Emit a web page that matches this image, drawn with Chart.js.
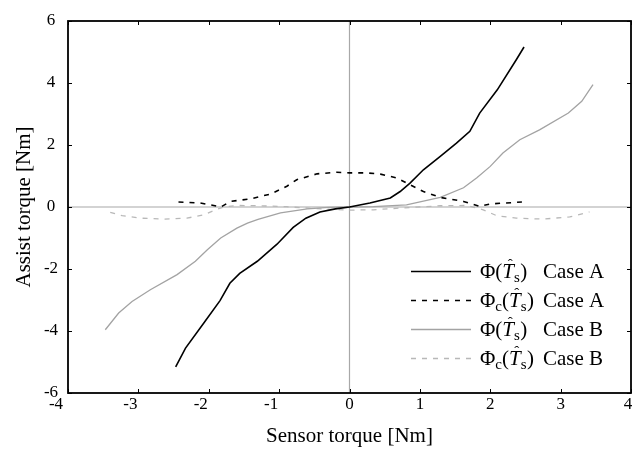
<!DOCTYPE html>
<html>
<head>
<meta charset="utf-8">
<script src="https://cdn.jsdelivr.net/npm/chart.js@4"></script>
<style>
  html, body { margin: 0; padding: 0; background: #fff; }
  #wrap { width: 634px; height: 450px; position: relative; }
</style>
</head>
<body>
<div id="wrap"><canvas id="c" width="634" height="450"></canvas></div>
<script>
// ---- data ----
const xTicks = [-4, -3, -2, -1, 0, 1, 2, 3, 4];
const yTicks = [-6, -4, -2, 0, 2, 4, 6];
const xTitle = 'Sensor torque [Nm]';
const yTitle = 'Assist torque [Nm]';
const caseNames = ['Case A', 'Case A', 'Case B', 'Case B'];
const funcSubs = ['', 'c', '', 'c'];   // Φ or Φc

const phiA_x = [-2.47, -2.33, -2.07, -1.84, -1.70, -1.56, -1.31, -1.03, -0.80, -0.62, -0.42, -0.20, 0, 0.29, 0.58, 0.72, 0.86, 1.05, 1.29, 1.52, 1.71, 1.85, 2.10, 2.37, 2.48];
const phiA_y = [-5.16, -4.55, -3.74, -3.02, -2.46, -2.14, -1.75, -1.20, -0.66, -0.36, -0.16, -0.06, 0, 0.13, 0.29, 0.50, 0.77, 1.20, 1.63, 2.06, 2.44, 3.03, 3.78, 4.75, 5.16];

const phiCA_x = [-2.43, -2.12, -1.98, -1.83, -1.69, -1.41, -1.12, -0.89, -0.75, -0.46, -0.18, 0, 0.25, 0.44, 0.67, 0.86, 1.05, 1.29, 1.62, 1.85, 2.00, 2.45];
const phiCA_y = [0.16, 0.13, 0.07, 0.00, 0.18, 0.26, 0.42, 0.67, 0.88, 1.07, 1.12, 1.10, 1.10, 1.06, 0.94, 0.72, 0.50, 0.31, 0.18, 0.02, 0.10, 0.16];

const phiB_x = [-3.47, -3.28, -3.09, -2.83, -2.45, -2.19, -2.02, -1.83, -1.60, -1.45, -1.30, -0.98, -0.60, -0.30, 0, 0.34, 0.81, 1.29, 1.62, 1.81, 2.00, 2.18, 2.42, 2.70, 3.11, 3.30, 3.46];
const phiB_y = [-3.96, -3.42, -3.05, -2.67, -2.18, -1.75, -1.38, -1.00, -0.68, -0.52, -0.40, -0.19, -0.06, -0.01, 0, 0.01, 0.07, 0.31, 0.62, 0.94, 1.31, 1.74, 2.17, 2.49, 3.03, 3.41, 3.95];

const phiCB_x = [-3.40, -3.23, -2.97, -2.64, -2.31, -2.07, -1.90, -1.79, -1.60, -1.28, -0.90, -0.50, 0, 0.34, 0.76, 1.29, 1.67, 1.90, 2.09, 2.37, 2.75, 3.13, 3.41];
const phiCB_y = [-0.17, -0.28, -0.36, -0.39, -0.36, -0.25, -0.09, 0.00, 0.05, 0.04, 0.01, -0.05, -0.10, -0.09, -0.03, 0.04, 0.05, -0.09, -0.28, -0.36, -0.39, -0.32, -0.16];

const pts = (xs, ys) => xs.map((x, i) => ({ x: x, y: ys[i] }));

const SERIF = '"Liberation Serif", "Times New Roman", serif';
const BLACK = '#000000';
const GRAY = '#a3a3a3';
const LGRAY = '#b8b8b8';
const ZERO = '#a8a8a8';

const datasets = [
  { label: 'Φ(T̂s) Case A', data: pts(phiA_x, phiA_y), borderColor: BLACK, borderWidth: 1.6, borderDash: [] },
  { label: 'Φc(T̂s) Case A', data: pts(phiCA_x, phiCA_y), borderColor: BLACK, borderWidth: 1.6, borderDash: [5, 6] },
  { label: 'Φ(T̂s) Case B', data: pts(phiB_x, phiB_y), borderColor: GRAY, borderWidth: 1.3, borderDash: [] },
  { label: 'Φc(T̂s) Case B', data: pts(phiCB_x, phiCB_y), borderColor: LGRAY, borderWidth: 1.3, borderDash: [5, 6] }
].map(d => Object.assign(d, { fill: false, tension: 0, pointRadius: 0, pointHoverRadius: 0 }));

// zero lines under the data
const zeroLines = {
  id: 'zeroLines',
  beforeDatasetsDraw(chart) {
    const { ctx, chartArea: a, scales: { x, y } } = chart;
    ctx.save();
    ctx.strokeStyle = ZERO;
    ctx.lineWidth = 1.2;
    const px = x.getPixelForValue(0), py = y.getPixelForValue(0);
    ctx.beginPath();
    ctx.moveTo(px, a.top); ctx.lineTo(px, a.bottom);
    ctx.moveTo(a.left, py); ctx.lineTo(a.right, py);
    ctx.stroke();
    ctx.restore();
  }
};

function drawMath(ctx, x, y, sub) {
  const main = '21px ' + SERIF, small = '15px ' + SERIF, ital = 'italic 21px ' + SERIF;
  ctx.textAlign = 'left';
  ctx.textBaseline = 'alphabetic';
  ctx.font = main; ctx.fillText('Φ', x, y); x += ctx.measureText('Φ').width;
  if (sub) { ctx.font = small; ctx.fillText(sub, x, y + 4); x += ctx.measureText(sub).width; }
  ctx.font = main; ctx.fillText('(', x, y); x += ctx.measureText('(').width;
  ctx.font = ital; const tw = ctx.measureText('T').width; ctx.fillText('T', x, y);
  ctx.font = small; ctx.textAlign = 'center'; ctx.fillText('ˆ', x + tw / 2 + 2, y - 9); ctx.textAlign = 'left';
  x += tw;
  ctx.font = small; ctx.fillText('s', x, y + 4); x += ctx.measureText('s').width + 0.5;
  ctx.font = main; ctx.fillText(')', x, y);
}

const frame = {
  id: 'frame',
  afterDraw(chart) {
    const { ctx, chartArea: a, scales: { x, y } } = chart;
    ctx.save();
    // box
    ctx.strokeStyle = '#000';
    ctx.lineWidth = 1.8;
    ctx.strokeRect(a.left, a.top, a.right - a.left, a.bottom - a.top);
    // inward ticks
    ctx.lineWidth = 1;
    const tl = 4;
    ctx.beginPath();
    xTicks.forEach(v => {
      const p = Math.round(x.getPixelForValue(v)) + 0.5;
      ctx.moveTo(p, a.bottom); ctx.lineTo(p, a.bottom - tl);
      ctx.moveTo(p, a.top); ctx.lineTo(p, a.top + tl);
    });
    yTicks.forEach(v => {
      const p = Math.round(y.getPixelForValue(v)) + 0.5;
      ctx.moveTo(a.left, p); ctx.lineTo(a.left + tl, p);
      ctx.moveTo(a.right, p); ctx.lineTo(a.right - tl, p);
    });
    ctx.stroke();
    // tick labels
    ctx.fillStyle = '#000';
    ctx.font = '17px ' + SERIF;
    ctx.textAlign = 'center';
    ctx.textBaseline = 'middle';
    xTicks.forEach(v => {
      let p = x.getPixelForValue(v);
      if (v < 0) p -= 8;
      if (v === xTicks[0]) p -= 4;
      if (v === xTicks[xTicks.length - 1]) p -= 3;
      ctx.fillText(String(v), p, a.bottom + 12);
    });
    yTicks.forEach(v => {
      ctx.fillText(String(v), a.left - 17, y.getPixelForValue(v));
    });
    // axis titles
    ctx.font = '21px ' + SERIF;
    ctx.fillText(xTitle, (a.left + a.right) / 2, 436);
    ctx.save();
    ctx.translate(24, (a.top + a.bottom) / 2);
    ctx.rotate(-Math.PI / 2);
    ctx.fillText(yTitle, 0, 0);
    ctx.restore();
    // legend
    const rows = [271, 300, 329, 358];
    chart.data.datasets.forEach((d, i) => {
      const cy = rows[i];
      ctx.save();
      ctx.strokeStyle = d.borderColor;
      ctx.lineWidth = d.borderWidth;
      ctx.setLineDash(d.borderDash);
      ctx.beginPath();
      ctx.moveTo(411, cy + 0.5); ctx.lineTo(471, cy + 0.5);
      ctx.stroke();
      ctx.restore();
      ctx.fillStyle = '#000';
      drawMath(ctx, 480, cy + 7, funcSubs[i]);
      ctx.font = '21px ' + SERIF;
      ctx.textAlign = 'left';
      ctx.textBaseline = 'alphabetic';
      ctx.fillText(caseNames[i], 543, cy + 7);
    });
    ctx.restore();
  }
};

new Chart(document.getElementById('c'), {
  type: 'line',
  data: { datasets: datasets },
  options: {
    responsive: false,
    animation: false,
    layout: { padding: { left: 68, right: 3, top: 21, bottom: 57 } },
    plugins: { legend: { display: false }, tooltip: { enabled: false } },
    scales: {
      x: { type: 'linear', min: -4, max: 4, display: false },
      y: { type: 'linear', min: -6, max: 6, display: false }
    }
  },
  plugins: [zeroLines, frame]
});
</script>
</body>
</html>
